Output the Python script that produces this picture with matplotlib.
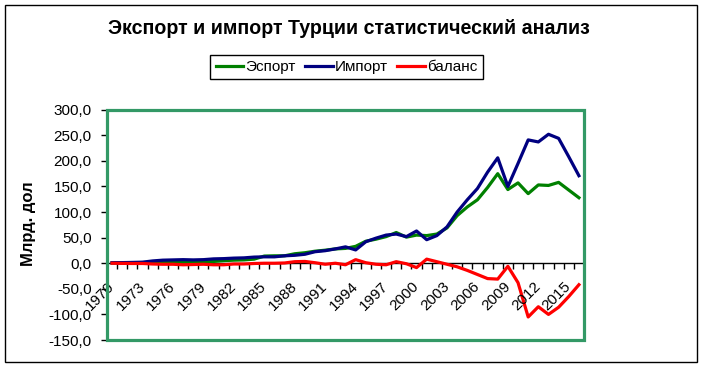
import matplotlib
matplotlib.use("Agg")
import matplotlib.pyplot as plt
from matplotlib.patches import Rectangle
from matplotlib.lines import Line2D

plt.rcParams['font.family'] = ['Liberation Sans', 'DejaVu Sans']

years = list(range(1970, 2017))
export = [0.6, 0.7, 0.9, 1.3, 1.5, 1.4, 2.0, 1.8, 2.3, 2.3,
          3.5, 5.0, 6.0, 6.5, 8.0, 14.0, 14.5, 14.5, 18.5, 20.5,
          23.5, 25.5, 28, 29, 33, 43, 47, 52, 60, 51,
          55, 54, 57, 69, 93, 110, 124, 148, 175, 144,
          157, 136, 153, 152, 158, 143, 128]
imports = [1.0, 1.2, 1.6, 2.1, 4.5, 6.0, 6.5, 7.0, 6.5, 7.0,
           8.5, 9.0, 10.0, 10.5, 12.0, 12.5, 12.5, 14.5, 15.5, 17.5,
           22.5, 24.5, 28, 32, 26, 42, 49, 55, 57, 52,
           63, 46, 54, 71, 100, 124, 146, 178, 206, 150,
           195, 241, 237, 252, 244, 208, 171]
balance = [0, -0.3, -0.5, -0.5, -1.5, -2.0, -2.0, -3.0, -2.5, -2.0,
           -3.0, -3.0, -1.5, -1.5, -0.5, 0, 0, 0.5, 3.0, 3.5,
           1.0, -2.0, 0, -3, 7, 1, -2, -3, 3, -1,
           -8.5, 8, 3, -2, -7, -14, -22, -30, -31, -6,
           -38, -105, -85, -100, -86, -65, -42]
series_names = ['Эспорт', 'Импорт', 'баланс']
series_colors = ['#008000', '#000080', '#FF0000']
yticks = list(range(-150, 301, 50))
title = 'Экспорт и импорт Турции статистический анализ'
ylabel = 'Млрд. дол'

W, H = 702, 368
fig = plt.figure(figsize=(W / 100, H / 100), dpi=100)
left, right, top, bottom = 107, 584, 109.7, 340
ax = fig.add_axes([left / W, 1 - bottom / H, (right - left) / W, (bottom - top) / H])

lw = 2.3
for vals, name, col in zip([export, imports, balance], series_names, series_colors):
    ax.plot(years, vals, color=col, lw=lw, label=name, zorder=3)

ax.set_xlim(years[0] - 0.5, years[-1] + 0.5)
ax.set_ylim(-150, 300)

# y axis
ax.set_yticks(yticks)
ax.set_yticklabels([f"{v:.1f}".replace('.', ',') for v in yticks], fontsize=11)
ax.tick_params(axis='y', direction='out', length=4, width=1, pad=7, color='black')

# x axis (category style): ticks between categories, labels every 3rd year
boundaries = [y - 0.5 for y in years] + [years[-1] + 0.5]
ax.set_xticks(boundaries)
ax.set_xticklabels([''] * len(boundaries))
ax.tick_params(axis='x', direction='out', length=4, width=1, color='black')
for yr in years[::3]:
    ax.annotate(str(yr), xy=(yr, 0), xycoords='data', xytext=(-3.5, -11.5),
                textcoords='offset points', rotation=45, rotation_mode='anchor',
                ha='right', va='top', fontsize=11, annotation_clip=False)

for s in ['top', 'right']:
    ax.spines[s].set_visible(False)
ax.spines['bottom'].set_position(('data', 0))
ax.spines['bottom'].set_color('black')
ax.spines['bottom'].set_linewidth(1)
ax.spines['left'].set_color('black')
ax.spines['left'].set_linewidth(1)

ax.add_patch(Rectangle((0, 0), 1, 1, transform=ax.transAxes, fill=False,
                       ec='#339966', lw=2.3, clip_on=False, zorder=4))

# title, axis label
fig.text(349 / W, 1 - 28 / H, title, ha='center', va='center',
         fontsize=14.1, fontweight='bold')
fig.text(29 / W, 1 - 224 / H, ylabel, ha='center', va='center', rotation=90,
         fontsize=12, fontweight='bold')

# legend
handles = [Line2D([], [], color=c, lw=lw) for c in series_colors]
leg = fig.legend(handles, series_names, loc='center',
                 bbox_to_anchor=(346.5 / W, 1 - 67 / H), ncol=3, frameon=True,
                 fancybox=False, edgecolor='black', framealpha=1, fontsize=11,
                 handlelength=1.8, handletextpad=0.15, columnspacing=0.6,
                 borderpad=0.35, borderaxespad=0)
leg.get_frame().set_linewidth(1)

# outer chart border
fig.patches.append(Rectangle((5 / W, 1 - 362 / H), 692 / W, 357 / H,
                             transform=fig.transFigure, fill=False, lw=1,
                             ec='black'))

fig.savefig('out.png', dpi=100)
